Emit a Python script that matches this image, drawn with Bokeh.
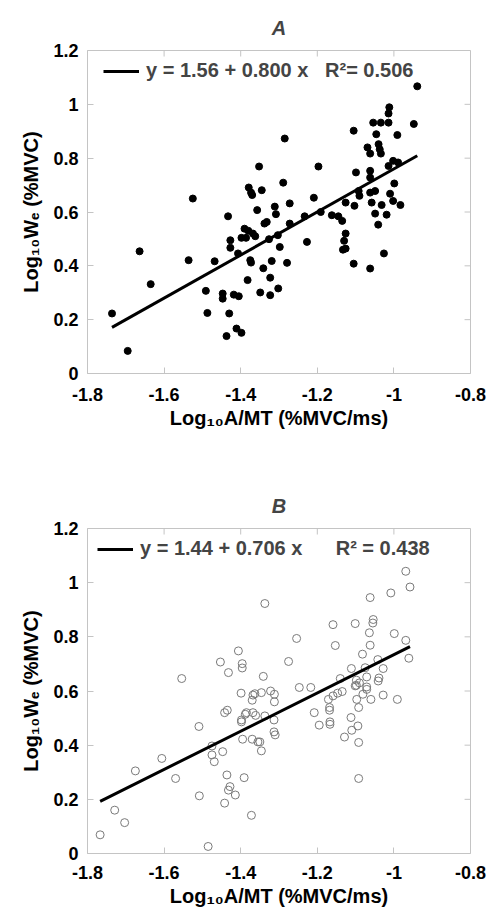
from bokeh.plotting import figure
from bokeh.models import Range1d, FixedTicker, Legend, LegendItem
from bokeh.layouts import column
from bokeh.embed import file_html
from bokeh.resources import INLINE

# ---------------- data ----------------
a_x = [-0.939, -1.012, -1.014, -1.054, -1.034, -1.014, -0.948, -1.105, -1.046, -0.991,
       -1.285, -1.069, -1.040, -1.062, -1.037, -1.034, -1.014, -0.989, -1.002, -1.352,
       -1.197, -1.099, -1.062, -0.999, -1.062, -1.289, -1.379, -1.373, -1.370, -1.345,
       -1.092, -1.090, -1.062, -1.049, -1.010, -1.002, -1.058, -1.032, -0.983, -1.525,
       -1.357, -1.311, -1.272, -1.209, -1.103, -1.126,
       -1.736, -1.695, -1.664, -1.635, -1.536, -1.491, -1.487, -1.468, -1.447, -1.447,
       -1.437, -1.433, -1.427, -1.427, -1.430, -1.418, -1.405, -1.411, -1.398, -1.407,
       -1.398, -1.386, -1.390, -1.380, -1.368, -1.362, -1.382, -1.375, -1.373, -1.349,
       -1.341, -1.338, -1.332, -1.323, -1.326, -1.323, -1.308, -1.319, -1.302, -1.303,
       -1.298, -1.279, -1.272, -1.233, -1.227, -1.191, -1.162, -1.145, -1.135, -1.126,
       -1.133, -1.126, -1.130, -1.105, -1.062, -1.026, -1.049, -1.041, -1.019]
a_y = [1.067, 0.989, 0.966, 0.932, 0.932, 0.932, 0.927, 0.902, 0.889, 0.886,
       0.873, 0.840, 0.852, 0.817, 0.833, 0.817, 0.771, 0.784, 0.790, 0.769,
       0.769, 0.747, 0.753, 0.706, 0.728, 0.709, 0.691, 0.672, 0.663, 0.681,
       0.678, 0.660, 0.672, 0.678, 0.668, 0.641, 0.635, 0.626, 0.626, 0.650,
       0.607, 0.620, 0.632, 0.653, 0.623, 0.635,
       0.223, 0.084, 0.454, 0.332, 0.421, 0.307, 0.225, 0.417, 0.297, 0.278,
       0.139, 0.584, 0.495, 0.467, 0.223, 0.293, 0.287, 0.167, 0.151, 0.446,
       0.504, 0.504, 0.538, 0.530, 0.520, 0.510, 0.347, 0.421, 0.412, 0.301,
       0.391, 0.557, 0.563, 0.356, 0.499, 0.291, 0.592, 0.418, 0.316, 0.514,
       0.470, 0.411, 0.557, 0.584, 0.489, 0.600, 0.588, 0.584, 0.567, 0.520,
       0.460, 0.464, 0.493, 0.408, 0.390, 0.446, 0.594, 0.553, 0.590]

b_x = [-0.969, -0.958, -1.008, -1.062, -1.337, -1.159, -1.101, -1.054, -1.055, -1.064,
       -0.999, -1.254, -0.969, -1.153, -1.062, -1.406, -1.082, -0.961, -1.042, -1.453,
       -1.275, -1.396, -1.396, -1.432, -1.111, -1.075, -1.028, -1.039, -1.341, -1.554,
       -1.140, -1.098, -1.071, -1.247, -1.217, -1.098, -1.071,
       -1.767, -1.729, -1.703, -1.675, -1.606, -1.570, -1.509, -1.508, -1.485, -1.475,
       -1.475, -1.469, -1.447, -1.442, -1.435, -1.436, -1.428, -1.432, -1.442, -1.414,
       -1.399, -1.398, -1.398, -1.388, -1.385, -1.391, -1.372, -1.395, -1.370, -1.368,
       -1.363, -1.370, -1.368, -1.361, -1.355, -1.350, -1.346, -1.346, -1.337, -1.322,
       -1.312, -1.312, -1.313, -1.313, -1.310, -1.208, -1.195, -1.171, -1.168, -1.168,
       -1.167, -1.167, -1.159, -1.147, -1.135, -1.129, -1.112, -1.110, -1.101, -1.097,
       -1.092, -1.094, -1.092, -1.092, -1.081, -1.071, -1.060, -1.041, -1.028, -0.991,
       -1.090]
b_y = [1.042, 0.984, 0.962, 0.945, 0.923, 0.845, 0.849, 0.864, 0.851, 0.815,
       0.812, 0.794, 0.787, 0.768, 0.769, 0.748, 0.736, 0.721, 0.716, 0.707,
       0.709, 0.701, 0.685, 0.668, 0.683, 0.686, 0.683, 0.648, 0.654, 0.646,
       0.646, 0.640, 0.652, 0.613, 0.613, 0.621, 0.615,
       0.069, 0.160, 0.114, 0.305, 0.351, 0.277, 0.469, 0.213, 0.026, 0.397,
       0.364, 0.339, 0.376, 0.520, 0.529, 0.290, 0.247, 0.234, 0.186, 0.216,
       0.592, 0.493, 0.486, 0.514, 0.520, 0.280, 0.141, 0.422, 0.422, 0.585,
       0.590, 0.566, 0.520, 0.510, 0.412, 0.412, 0.379, 0.594, 0.508, 0.600,
       0.588, 0.560, 0.493, 0.449, 0.438, 0.520, 0.474, 0.569, 0.539, 0.529,
       0.486, 0.477, 0.582, 0.592, 0.598, 0.430, 0.502, 0.455, 0.619, 0.569,
       0.539, 0.471, 0.410, 0.277, 0.588, 0.606, 0.569, 0.637, 0.585, 0.569,
       0.630]

a_intercept, a_slope, a_r2 = 1.56, 0.800, 0.506
b_intercept, b_slope, b_r2 = 1.44, 0.706, 0.438

x_ticks = [-1.8, -1.6, -1.4, -1.2, -1.0, -0.8]
x_tick_labels = ["-1.8", "-1.6", "-1.4", "-1.2", "-1", "-0.8"]
y_ticks = [0.0, 0.2, 0.4, 0.6, 0.8, 1.0, 1.2]
y_tick_labels = ["0", "0.2", "0.4", "0.6", "0.8", "1", "1.2"]

x_label = "Log\u2081\u2080A/MT (%MVC/ms)"
y_label = "Log\u2081\u2080W\u2091 (%MVC)"

FONT = "Liberation Sans"
GRAY = "#c4c4c4"
NB = "\u00a0"
XMIN, XMAX, YMIN, YMAX = -1.8, -0.8, 0.0, 1.2
TICK_PX = 6


def style_axis(ax, ticks, labels):
    ax.ticker = FixedTicker(ticks=ticks)
    ax.major_label_overrides = {t: l for t, l in zip(ticks, labels)}
    ax.axis_line_color = None
    ax.major_tick_line_color = GRAY
    ax.major_tick_in = TICK_PX
    ax.major_tick_out = 0
    ax.minor_tick_line_color = None
    ax.major_label_text_font = FONT
    ax.major_label_text_font_style = "bold"
    ax.major_label_text_color = "black"
    ax.major_label_text_font_size = "18px"
    ax.axis_label_text_font = FONT
    ax.axis_label_text_font_style = "bold"
    ax.axis_label_text_font_size = "20px"
    ax.axis_label_text_color = "black"


def make_panel(title, xs, ys, intercept, slope, label, filled,
               width, height, bl, br, bt, bb, x_standoff, legend_x, legend_y):
    p = figure(width=width, height=height, output_backend="svg", toolbar_location=None,
               x_range=Range1d(XMIN, XMAX), y_range=Range1d(YMIN, YMAX),
               min_border_left=bl, min_border_right=br, min_border_top=bt,
               min_border_bottom=bb)
    p.outline_line_color = GRAY
    p.outline_line_width = 1
    p.xgrid.visible = False
    p.ygrid.visible = False

    p.title.text = title
    p.title.align = "center"
    p.title.text_font = FONT
    p.title.text_font_style = "bold italic"
    p.title.text_font_size = "20px"
    p.title.standoff = 24

    style_axis(p.xaxis[0], x_ticks, x_tick_labels)
    style_axis(p.yaxis[0], y_ticks, y_tick_labels)
    p.xaxis[0].major_label_standoff = x_standoff
    p.yaxis[0].major_label_standoff = 9
    p.xaxis[0].axis_label = x_label
    p.xaxis[0].axis_label_standoff = 3
    p.yaxis[0].axis_label = y_label
    p.yaxis[0].axis_label_standoff = 8

    # mirrored inward ticks on the top and right edges of the frame
    fw = width - bl - br
    fh = height - bt - bb
    dx = TICK_PX * (XMAX - XMIN) / fw
    dy = TICK_PX * (YMAX - YMIN) / fh
    p.segment(x0=x_ticks, y0=[YMAX] * len(x_ticks), x1=x_ticks,
              y1=[YMAX - dy] * len(x_ticks), line_color=GRAY, line_width=1)
    p.segment(x0=[XMAX] * len(y_ticks), y0=y_ticks, x1=[XMAX - dx] * len(y_ticks),
              y1=y_ticks, line_color=GRAY, line_width=1)

    if filled:
        p.scatter(xs, ys, size=7, fill_color="black", line_color="black")
    else:
        p.scatter(xs, ys, size=8, fill_color=None, line_color="#7a7a7a", line_width=1)

    x0, x1 = min(xs), max(xs)
    fit = p.line([x0, x1], [intercept + slope * x0, intercept + slope * x1],
                 line_color="black", line_width=3)

    legend = Legend(items=[LegendItem(label=label, renderers=[fit])],
                    location=(legend_x, legend_y), orientation="horizontal",
                    padding=0, margin=0, spacing=0,
                    glyph_width=36, glyph_height=20, label_height=20,
                    label_standoff=7, border_line_alpha=0, background_fill_alpha=0,
                    label_text_font=FONT, label_text_font_style="bold",
                    label_text_font_size="20px")
    p.add_layout(legend)
    return p


label_a = "y = %.2f + %.3f x%sR\u00b2= %.3f" % (a_intercept, a_slope, NB * 3, a_r2)
label_b = "y = %.2f + %.3f x%sR\u00b2 = %.3f" % (b_intercept, b_slope, NB * 6, b_r2)

pa = make_panel("A", a_x, a_y, a_intercept, a_slope, label_a, True,
                width=488, height=440, bl=82, br=18, bt=50, bb=67,
                x_standoff=14, legend_x=16, legend_y=291)
pb = make_panel("B", b_x, b_y, b_intercept, b_slope, label_b, False,
                width=488, height=474, bl=87, br=13, bt=88, bb=61,
                x_standoff=12, legend_x=10, legend_y=293)

layout = column(pa, pb, spacing=0)
open("out.html", "w").write(file_html(layout, INLINE))
